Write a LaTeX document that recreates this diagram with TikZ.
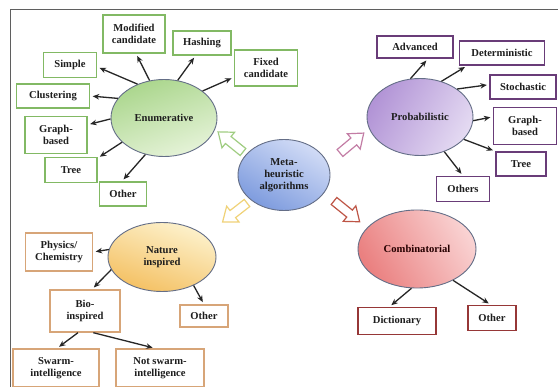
\documentclass[tikz,border=0pt]{standalone}
\usepackage{fontspec}
\setmainfont{Liberation Serif}
\usetikzlibrary{arrows.meta,shapes.geometric}
\definecolor{frameC}{RGB}{95,95,95}
\definecolor{ellB}{RGB}{100,110,135}
\definecolor{grnB}{RGB}{130,185,100}
\definecolor{purB}{RGB}{105,60,120}
\definecolor{redB}{RGB}{150,55,55}
\definecolor{orgB}{RGB}{215,165,120}
\definecolor{enumA}{RGB}{170,214,140}
\definecolor{enumB}{RGB}{230,243,217}
\definecolor{metaA}{RGB}{125,155,222}
\definecolor{metaB}{RGB}{210,220,246}
\definecolor{probA}{RGB}{178,148,214}
\definecolor{probB}{RGB}{228,218,242}
\definecolor{combA}{RGB}{234,128,128}
\definecolor{combB}{RGB}{249,210,210}
\definecolor{natA}{RGB}{244,192,98}
\definecolor{natB}{RGB}{253,242,205}
\definecolor{baG}{RGB}{160,205,130}
\definecolor{baP}{RGB}{195,125,165}
\definecolor{baY}{RGB}{240,210,120}
\definecolor{baR}{RGB}{190,85,70}
\definecolor{txt}{RGB}{30,30,30}
\tikzset{
  every node/.style={font=\fontsize{10.6}{12}\selectfont\bfseries, text=txt, align=center},
  ell/.style={ellipse, draw=ellB, line width=0.9pt, inner sep=0pt},
  bx/.style={rectangle, line width=1.4pt, inner sep=0pt},
  gbox/.style={bx, draw=grnB},
  pbox/.style={bx, draw=purB},
  rbox/.style={bx, draw=redB},
  obox/.style={bx, draw=orgB},
  arr/.style={-{Stealth[length=6.5pt,width=5.5pt]}, line width=1.3pt, draw=black!85, shorten >=2.5pt},
  blockarrow/.style={line width=1.2pt, fill=white, line join=miter}
}
\newcommand{\blockarr}[4]{%
  \begin{scope}[shift={#1}, rotate=#2]
    \draw[blockarrow, draw=#4] (0,-4.5) -- (#3-13,-4.5) -- (#3-13,-10) -- (#3,0) -- (#3-13,10) -- (#3-13,4.5) -- (0,4.5) -- cycle;
  \end{scope}}
\begin{document}
\begin{tikzpicture}[x=1pt,y=-1pt]
\useasboundingbox[fill=white] (0,0) rectangle (558,387);
\draw[frameC, line width=1pt] (10,387) -- (10,10) -- (558,10);

% ellipses
\node[ell, minimum width=106, minimum height=77, top color=enumA, bottom color=enumB, shading angle=20] (enum) at (164,118) {Enumerative};
\node[ell, minimum width=92, minimum height=71, top color=metaB, bottom color=metaA, shading angle=-30] (meta) at (284,175) {Meta-\\heuristic\\algorithms};
\node[ell, minimum width=106, minimum height=77, left color=probA, right color=probB, shading angle=60] (prob) at (420,117) {Probabilistic};
\node[ell, minimum width=118, minimum height=78, left color=combA, right color=combB, shading angle=120, text=black!75!red!60!black] (comb) at (417,249) {Combinatorial};
\node[ell, minimum width=108, minimum height=69, top color=natB, bottom color=natA, shading angle=-20] (nat) at (162,257) {Nature\\inspired};

% block arrows
\blockarr{(243,152)}{141}{32}{baG}
\blockarr{(340,153)}{40}{31}{baP}
\blockarr{(247,203)}{218}{31}{baY}
\blockarr{(334,201)}{-39}{33}{baR}

% enumerative boxes
\node[gbox, minimum width=62, minimum height=38] (mod) at (134,34) {Modified\\candidate};
\node[gbox, minimum width=58, minimum height=24] (hash) at (202,43) {Hashing};
\node[gbox, minimum width=63, minimum height=36] (fixed) at (266,68) {Fixed\\candidate};
\node[gbox, minimum width=53, minimum height=25] (simple) at (70,65) {Simple};
\node[gbox, minimum width=73, minimum height=24] (clus) at (53,96) {Clustering};
\node[gbox, minimum width=62, minimum height=37] (graphE) at (56,135) {Graph-\\based};
\node[gbox, minimum width=52, minimum height=25] (treeE) at (71,170) {Tree};
\node[gbox, minimum width=47, minimum height=24] (otherE) at (123,194) {Other};

% probabilistic boxes
\node[pbox, minimum width=76, minimum height=22] (adv) at (415,47) {Advanced};
\node[pbox, minimum width=85, minimum height=24] (det) at (502,53) {Deterministic};
\node[pbox, minimum width=66, minimum height=24] (sto) at (523,87) {Stochastic};
\node[pbox, minimum width=63, minimum height=37] (graphP) at (525,126) {Graph-\\based};
\node[pbox, minimum width=50, minimum height=24] (treeP) at (521,164) {Tree};
\node[pbox, minimum width=53, minimum height=25] (others) at (463,189) {Others};

% combinatorial boxes
\node[rbox, minimum width=78, minimum height=27] (dict) at (397,321) {Dictionary};
\node[rbox, minimum width=48, minimum height=25] (otherC) at (492,318) {Other};

% nature boxes
\node[obox, minimum width=67, minimum height=38] (phys) at (59,252) {Physics/\\Chemistry};
\node[obox, minimum width=70, minimum height=42] (bio) at (85,311) {Bio-\\inspired};
\node[obox, minimum width=48, minimum height=22] (otherN) at (204,316) {Other};
\node[obox, minimum width=86, minimum height=38] (swarm) at (56,368) {Swarm-\\intelligence};
\node[obox, minimum width=88, minimum height=38] (nswarm) at (160,368) {Not swarm-\\intelligence};

% enumerative arrows
\draw[arr] (enum.111) -- (mod.-84);
\draw[arr] (enum.70) -- (hash.243);
\draw[arr] (enum.35) -- (fixed.196);
\draw[arr] (enum.128) -- (simple.-4);
\draw[arr] (enum.157) -- (clus.east);
\draw[arr] (enum.181) -- (graphE.18);
\draw[arr] (enum.210) -- (treeE.24);
\draw[arr] (enum.243) -- (otherE.95);

% probabilistic arrows
\draw[arr] (prob.104) -- (adv.-42);
\draw[arr] (prob.59) -- (det.200);
\draw[arr] (prob.37) -- (sto.176);
\draw[arr] (prob.-4) -- (graphP.164);
\draw[arr] (prob.-27) -- (treeP.north west);
\draw[arr] (prob.-55) -- (others.north);

% combinatorial arrows
\draw[arr] (comb.262) -- (dict.118);
\draw[arr] (comb.-41) -- (otherC.95);

% nature arrows
\draw[arr] (nat.172) -- (phys.east);
\draw[arr] (nat.194) -- (bio.72);
\draw[arr] (nat.-42) -- (otherN.north);
\draw[arr] (bio.252) -- (swarm.87);
\draw[arr] (bio.-69) -- (nswarm.104);
\end{tikzpicture}
\end{document}
